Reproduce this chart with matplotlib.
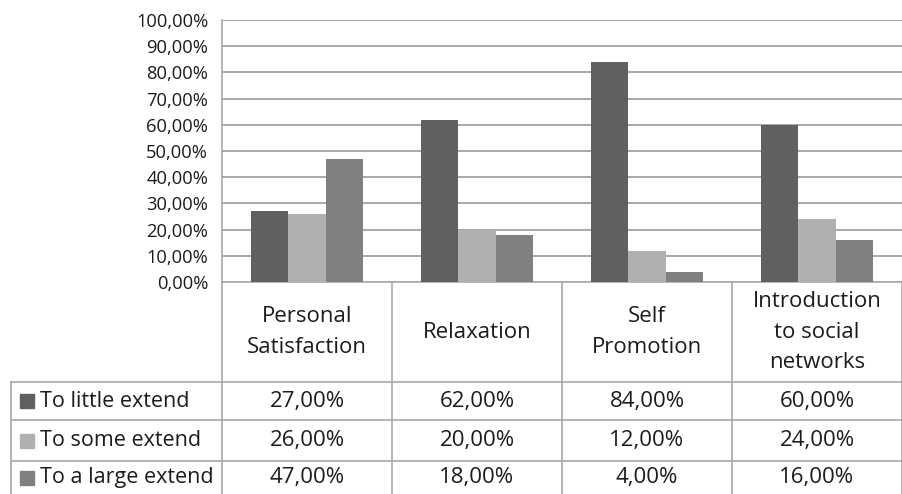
import numpy as np
import matplotlib.pyplot as plt
from matplotlib.ticker import MultipleLocator, FuncFormatter

plt.rcParams['font.family'] = ['Open Sans', 'DejaVu Sans']

categories = ['Personal\nSatisfaction', 'Relaxation', 'Self\nPromotion',
              'Introduction\nto social\nnetworks']
series = ['To little extend', 'To some extend', 'To a large extend']
little = [27.0, 62.0, 84.0, 60.0]
some = [26.0, 20.0, 12.0, 24.0]
large = [47.0, 18.0, 4.0, 16.0]

colors = ['#606060', '#b0b0b0', '#808080']
grid_c = '#a8a8a8'
text_c = '#1c1c1c'

W, H = 903, 494
fig = plt.figure(figsize=(W / 100, H / 100), dpi=100)

# pixel layout of plot area and table
x0, x1 = 222, 902
ytop, ybase = 20, 282
col_w = (x1 - x0) / len(categories)
row_y = [382, 420, 461, 494]
leg_x = 11
fs = 16

ax = fig.add_axes([x0 / W, 1 - ybase / H, (x1 - x0) / W, (ybase - ytop) / H])
x = np.arange(len(categories))
bw = 0.22
for k, vals in enumerate([little, some, large]):
    ax.bar(x + (k - 1) * bw, vals, width=bw, color=colors[k], zorder=3)

ax.set_xlim(-0.5, len(categories) - 0.5)
ax.set_ylim(0, 100)
ax.yaxis.set_major_locator(MultipleLocator(10))
ax.yaxis.set_major_formatter(FuncFormatter(lambda v, p: f'{v:.2f}%'.replace('.', ',')))
ax.tick_params(axis='y', length=0, pad=10, labelsize=13.2, labelcolor=text_c)
ax.set_xticks([])
ax.grid(axis='y', color=grid_c, lw=1.4, zorder=0)
for s in ['top', 'right', 'bottom']:
    ax.spines[s].set_visible(False)
ax.spines['left'].set_color(grid_c)
ax.spines['left'].set_linewidth(1.2)

# data table underneath, drawn in figure pixels
tab = fig.add_axes([0, 0, 1, 1], zorder=-1)
tab.set_xlim(0, W)
tab.set_ylim(H, 0)
tab.axis('off')
lw = 1.2
tab.plot([x0, x1], [ybase, ybase], color=grid_c, lw=lw)
for yy in row_y[:-1]:
    tab.plot([leg_x, x1], [yy, yy], color=grid_c, lw=lw)
tab.plot([leg_x, leg_x], [row_y[0], H], color=grid_c, lw=lw)
for i in range(len(categories) + 1):
    xx = x0 + i * col_w
    tab.plot([xx, xx], [ybase, H], color=grid_c, lw=lw)

for i, cat in enumerate(categories):
    cx = x0 + (i + 0.5) * col_w
    tab.text(cx, (ybase + row_y[0]) / 2, cat, ha='center', va='center',
             fontsize=fs, color=text_c, linespacing=1.6)
    for r, vals in enumerate([little, some, large]):
        cy = (row_y[r] + row_y[r + 1]) / 2
        tab.text(cx, cy, f'{vals[i]:.2f}%'.replace('.', ','), ha='center',
                 va='center', fontsize=fs, color=text_c)

for r, name in enumerate(series):
    cy = (row_y[r] + row_y[r + 1]) / 2
    tab.add_patch(plt.Rectangle((20, cy - 7), 14, 14, color=colors[r]))
    tab.text(40, cy, name, ha='left', va='center', fontsize=15.5, color=text_c)

fig.savefig('out.png', dpi=100)
